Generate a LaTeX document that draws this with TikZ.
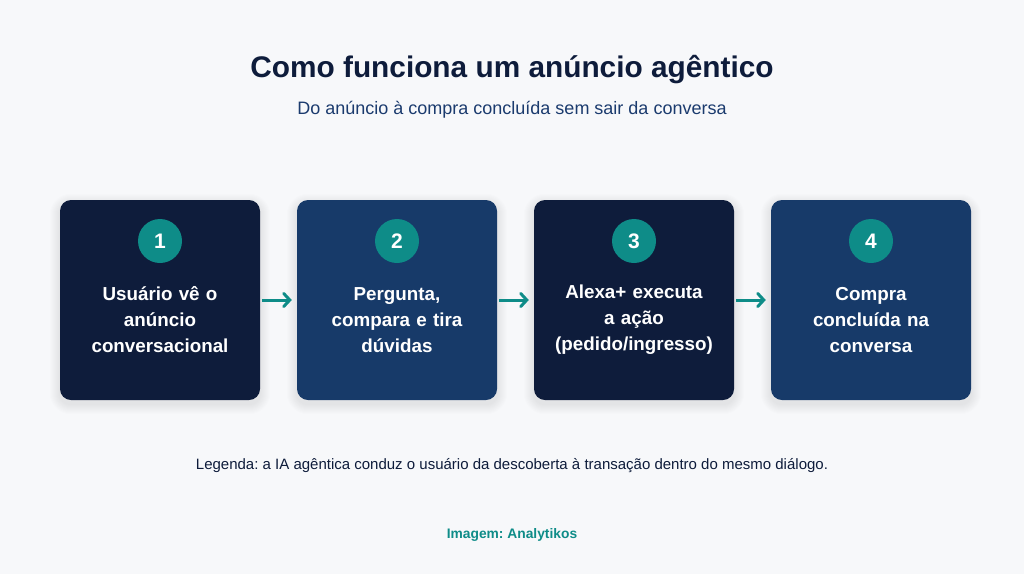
\documentclass[tikz,border=0pt]{standalone}
\usepackage{fontspec}
\setmainfont{Liberation Sans}
\usepackage{tikz}
\usetikzlibrary{arrows.meta,backgrounds,positioning}
\frenchspacing
\definecolor{navy}{HTML}{0E1C3B}
\definecolor{blue}{HTML}{173A69}
\definecolor{teal}{HTML}{0E8C88}
\definecolor{bg}{HTML}{F7F8FA}
\definecolor{sub}{HTML}{1B3B6E}
\tikzset{
  card/.style={draw=none, rounded corners=11pt, minimum width=200pt, minimum height=200pt},
  num/.style={circle, fill=teal, minimum size=44pt, inner sep=0pt, text=white, font=\fontsize{21}{24}\selectfont\bfseries},
  lbl/.style={text=white, align=center, text width=196pt, font=\fontsize{18.8}{26}\selectfont\bfseries},
  arr/.style={draw=teal, line width=3pt, -{Straight Barb[length=6pt, width=13pt, line cap=round]}, shorten <=2pt, shorten >=5pt}
}
\begin{document}
\begin{tikzpicture}[x=1pt, y=-1pt]
			\useasboundingbox (0,0) rectangle (1024,574);
			\node[text=navy, font=\fontsize{29.8}{34}\selectfont\bfseries] (title) at (512,70) {Como funciona um anúncio agêntico};
			\node[text=sub, font=\fontsize{18}{21}\selectfont] (subtitle) at (512,110) {Do anúncio à compra concluída sem sair da conversa};
			\node[card, fill=navy] (c1) at (160,300) {};
			\node[card, fill=blue] (c2) at (397,300) {};
			\node[card, fill=navy] (c3) at (634,300) {};
			\node[card, fill=blue] (c4) at (871,300) {};
			\node[num] (n1) at (160,241) {1};
			\node[num] (n2) at (397,241) {2};
			\node[num] (n3) at (634,241) {3};
			\node[num] (n4) at (871,241) {4};
			\node[lbl] (t1) at (160,320) {Usuário vê o\\anúncio\\conversacional};
			\node[lbl] (t2) at (397,320) {Pergunta,\\compara e tira\\dúvidas};
			\node[lbl] (t3) at (634,320) {Alexa+ executa\\a ação\\(pedido/ingresso)};
			\node[lbl] (t4) at (871,320) {Compra\\concluída na\\conversa};
			\draw[arr] (c1) -- (c2);
			\draw[arr] (c2) -- (c3);
			\draw[arr] (c3) -- (c4);
			\node[text=navy, font=\fontsize{15}{18}\selectfont] (legend) at (512,466) {Legenda: a IA agêntica conduz o usuário da descoberta à transação dentro do mesmo diálogo.};
			\node[text=teal, font=\fontsize{13.8}{16}\selectfont\bfseries] (credit) at (512,535) {Imagem: Analytikos};
			% soft shadows under the cards
			\begin{scope}[on background layer]
				\fill[bg] (0,0) rectangle (1024,574);
				\foreach \c in {c1,c2,c3,c4}
					\foreach \i in {1,...,10}
						\fill[black, opacity=0.008, rounded corners=11pt+\i pt]
							([xshift=-\i pt, yshift=\i pt-4pt]\c.north west) rectangle ([xshift=\i pt, yshift=-\i pt-4pt]\c.south east);
			\end{scope}
		\end{tikzpicture}
\end{document}
